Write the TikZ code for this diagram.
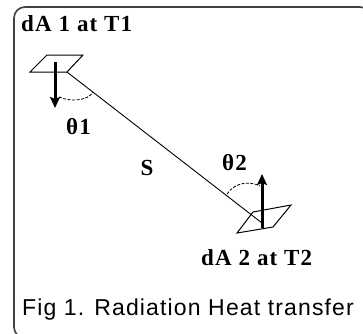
\documentclass[tikz,border=0pt]{standalone}
\usepackage{fontspec}
\setmainfont{Liberation Serif}
\newfontfamily\labelfont{Liberation Serif}[LetterSpace=5]
\newfontfamily\captionfont{Liberation Sans}[LetterSpace=5]
\usetikzlibrary{arrows.meta}

\tikzset{
    lbl/.style={inner sep=0pt, anchor=base west, font=\labelfont\bfseries\fontsize{23}{23}\selectfont},
    normal/.style={line width=3pt, -{Stealth[length=11pt, width=10pt, inset=2pt]}},
    anglearc/.style={line width=0.8pt, dash pattern=on 3pt off 1.5pt},
    surface/.style={line width=1pt, line join=miter}
}

\begin{document}
\begin{tikzpicture}[x=1pt, y=-1pt]
    \path[use as bounding box, clip] (0,0) rectangle (363,333);
    \draw[line width=1.6pt, draw=black!75, rounded corners=11pt] (14,7) rectangle (371,338);

    \coordinate (p1a) at (30,72);
    \coordinate (p1b) at (47,55);
    \coordinate (p1c) at (83,55);
    \coordinate (c1) at (67,72);
    \coordinate (p2a) at (237,233);
    \coordinate (p2b) at (253,212);
    \coordinate (p2c) at (291,205);
    \coordinate (p2d) at (273,227);
    \coordinate (c2) at (262,223);

    \coordinate (n1s) at (55,62);
    \coordinate (n1e) at (55,108);
    \coordinate (n2s) at (262,228);
    \coordinate (n2e) at (262,174);

    \draw[surface] (p1a) -- (p1b) -- (p1c) -- (c1) -- cycle;
    \draw[surface] (p2a) -- (p2b) -- (p2c) -- (p2d) -- cycle;

    \draw[line width=0.9pt] (c1) -- (c2);

    \draw[normal] (n1s) to (n1e);
    \draw[normal] (n2s) to (n2e);

    \coordinate (a1s) at (59,97);
    \coordinate (a1e) at (93,92);
    \coordinate (a2s) at (227,194);
    \coordinate (a2e) at (260,186);
    \draw[anglearc] (a1s) .. controls (70,102) and (88,101) .. (a1e);
    \draw[anglearc] (a2s) .. controls (235,182) and (250,181) .. (a2e);

    \node[lbl] (dA1) at (21,31) {dA 1 at T1};
    \node[lbl] (th1) at (66,134) {θ1};
    \node[lbl, anchor=base] (S) at (147,175) {S};
    \node[lbl] (th2) at (222,170) {θ2};
    \node[lbl] (dA2) at (201,265) {dA 2 at T2};
    \node[inner sep=0pt, anchor=base west, font=\captionfont\fontsize{23}{23}\selectfont] (cap) at (22,315) {Fig 1. Radiation Heat transfer};
\end{tikzpicture}
\end{document}
